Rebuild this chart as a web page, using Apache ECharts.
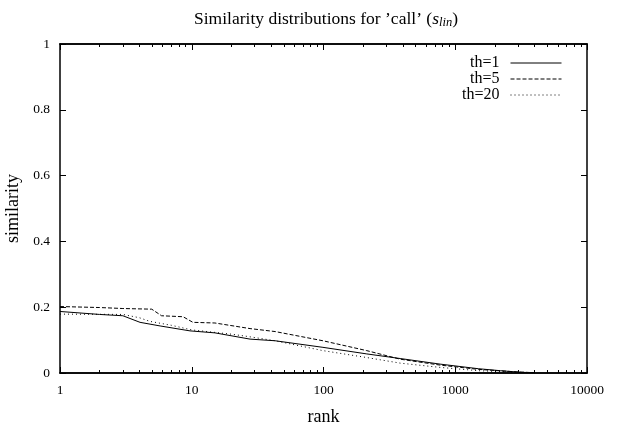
<!DOCTYPE html>
<html>
<head>
<meta charset="utf-8">
<script src="https://cdn.jsdelivr.net/npm/echarts@6/dist/echarts.min.js"></script>
<style>
  html, body { margin: 0; padding: 0; background: #fff; }
  #chart { width: 619px; height: 428px; }
</style>
</head>
<body>
<div id="chart"></div>
<script>
// values
const seriesNames = ['th=1', 'th=5', 'th=20']

const rankTh1 = [1, 2, 3, 4.05, 5.75, 9.7, 15, 27.7, 42.9, 99, 213, 382, 768, 1500, 2200, 3200, 4000]
const simTh1 = [0.187, 0.178, 0.174, 0.154, 0.143, 0.128, 0.122, 0.103, 0.098, 0.078, 0.058, 0.044, 0.027, 0.013, 0.007, 0.002, 0.001]

const rankTh5 = [1, 2, 3, 4.97, 5.9, 8.6, 10.2, 15, 27.7, 42.9, 99, 213, 382, 768, 1500, 3000, 4000]
const simTh5 = [0.202, 0.199, 0.196, 0.194, 0.174, 0.171, 0.154, 0.152, 0.135, 0.126, 0.098, 0.068, 0.042, 0.024, 0.011, 0.003, 0.001]

const rankTh20 = [1, 3, 4, 4.8, 7, 10, 20, 27.7, 42.9, 99, 213, 382, 768, 1500, 3000, 4000]
const simTh20 = [0.179, 0.178, 0.168, 0.157, 0.145, 0.131, 0.118, 0.11, 0.098, 0.068, 0.047, 0.03, 0.017, 0.007, 0.002, 0.001]

const xMajorTicks = [1, 10, 100, 1000, 10000]
const yTicks = [0, 0.2, 0.4, 0.6, 0.8, 1]

// gnuplot style minor ticks at 2..9 of each decade
const xMinorTicks = []
for (let d = 1; d < 10000; d *= 10) {
  for (let k = 2; k <= 9; k++) xMinorTicks.push(k * d)
}

const font = 'Liberation Serif'
const chart = echarts.init(document.getElementById('chart'))

const pairs = (xs, ys) => xs.map((x, i) => [x, ys[i]])

const logAxis = (pos, ticks, len, withLabel) => ({
  type: 'log',
  logBase: 10,
  position: pos,
  min: 1,
  max: 10000,
  axisLine: { show: true, lineStyle: { color: '#000', width: 1.5 } },
  axisTick: { show: true, inside: true, length: len, customValues: ticks, lineStyle: { color: '#000', width: 1 } },
  axisLabel: {
    show: withLabel,
    customValues: withLabel ? xMajorTicks : undefined,
    formatter: v => String(Math.round(v)),
    color: '#000', fontFamily: font, fontSize: 13.5, margin: 10
  },
  splitLine: { show: false },
  minorTick: { show: false }
})

const lineSeries = (name, data, type) => ({
  name,
  type: 'line',
  data,
  symbol: 'none',
  showSymbol: false,
  animation: false,
  lineStyle: { color: '#000', width: 1, type },
  itemStyle: { color: '#000' }
})

const legendAt = (name, top) => ({
  data: [name],
  right: 52,
  top,
  align: 'right',
  itemWidth: 51,
  itemHeight: 10,
  itemGap: 0,
  itemStyle: { color: 'rgba(0,0,0,0)', borderColor: 'rgba(0,0,0,0)', borderWidth: 0 },
  lineStyle: { width: 1 },
  textStyle: { color: '#000', fontFamily: font, fontSize: 16, padding: [0, 6, 0, 0] },
  selectedMode: false
})

const xBottom = logAxis('bottom', xMajorTicks, 6, true)
xBottom.name = 'rank'
xBottom.nameLocation = 'middle'
xBottom.nameGap = 35
xBottom.nameTextStyle = { color: '#000', fontFamily: font, fontSize: 18 }

const option = {
  animation: false,
  backgroundColor: '#fff',
  title: {
    text: 'Similarity distributions for ’call’ ({i|s}{sub|lin})',
    left: 321,
    textAlign: 'center',
    top: 4,
    textStyle: {
      color: '#000', fontFamily: font, fontSize: 17.5, fontWeight: 'normal',
      rich: {
        i: { fontFamily: font, fontSize: 17.5, fontStyle: 'italic', color: '#000' },
        sub: { fontFamily: font, fontSize: 12.5, fontStyle: 'italic', color: '#000', padding: [7, 0, 0, 0] }
      }
    }
  },
  legend: [
    legendAt(seriesNames[0], 50),
    legendAt(seriesNames[1], 66),
    legendAt(seriesNames[2], 82)
  ],
  grid: { left: 60, right: 32, top: 44, bottom: 55, outerBoundsMode: 'none', containLabel: false },
  xAxis: [
    xBottom,
    logAxis('bottom', xMinorTicks, 3, false),
    logAxis('top', xMajorTicks, 6, false),
    logAxis('top', xMinorTicks, 3, false)
  ],
  yAxis: [
    {
      type: 'value',
      position: 'left',
      min: 0,
      max: 1,
      interval: 0.2,
      name: 'similarity',
      nameLocation: 'middle',
      nameGap: 33,
      nameTextStyle: { color: '#000', fontFamily: font, fontSize: 18 },
      axisLine: { show: true, lineStyle: { color: '#000', width: 1.5 } },
      axisTick: { show: true, inside: true, length: 6, customValues: yTicks, lineStyle: { color: '#000' } },
      axisLabel: { color: '#000', fontFamily: font, fontSize: 13.5, margin: 10, customValues: yTicks, formatter: v => String(+v.toFixed(1)) },
      splitLine: { show: false }
    },
    {
      type: 'value',
      position: 'right',
      min: 0,
      max: 1,
      interval: 0.2,
      axisLine: { show: true, lineStyle: { color: '#000', width: 1.5 } },
      axisTick: { show: true, inside: true, length: 6, lineStyle: { color: '#000' } },
      axisLabel: { show: false },
      splitLine: { show: false }
    }
  ],
  series: [
    lineSeries(seriesNames[0], pairs(rankTh1, simTh1), 'solid'),
    lineSeries(seriesNames[1], pairs(rankTh5, simTh5), [4, 2]),
    lineSeries(seriesNames[2], pairs(rankTh20, simTh20), [1, 3])
  ]
}

chart.setOption(option)
</script>
</body>
</html>
